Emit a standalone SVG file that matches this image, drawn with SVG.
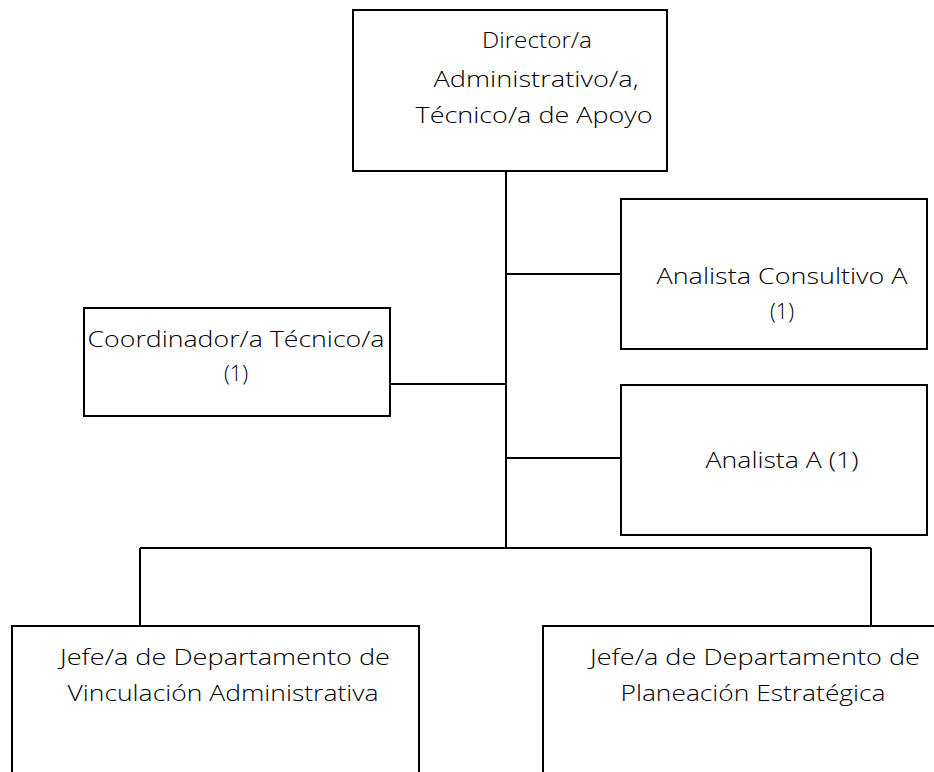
<svg xmlns="http://www.w3.org/2000/svg" width="934" height="772" viewBox="0 0 934 772">
<style>
.box{fill:#fff;stroke:#000;stroke-width:2}
.ln{stroke:#000;stroke-width:2;fill:none}
text{font-family:"Open Sans","Noto Sans",sans-serif;font-weight:300;font-size:21.5px;fill:#000;text-anchor:middle}
</style>
<rect width="934" height="772" fill="#fff"/>
<g id="connectors">
<path class="ln" d="M506 171V548M506 274H621M506 458H621M390 384H506M140 548H871M140 548V626M871 548V626"/>
</g>
<g id="director">
<rect class="box" x="353" y="10" width="314" height="161"/>
<text x="537" y="48" textLength="110" lengthAdjust="spacingAndGlyphs">Director/a</text>
<text x="536" y="87" textLength="205" lengthAdjust="spacingAndGlyphs">Administrativo/a,</text>
<text x="534" y="123" textLength="237" lengthAdjust="spacingAndGlyphs">Técnico/a de Apoyo</text>
</g>
<g id="analista-consultivo">
<rect class="box" x="621" y="199" width="306" height="150"/>
<text x="782" y="284" textLength="251" lengthAdjust="spacingAndGlyphs">Analista Consultivo A</text>
<text x="782" y="319">(1)</text>
</g>
<g id="coordinador">
<rect class="box" x="84" y="308" width="306" height="108"/>
<text x="236" y="347" textLength="297" lengthAdjust="spacingAndGlyphs">Coordinador/a Técnico/a</text>
<text x="236" y="381">(1)</text>
</g>
<g id="analista-a">
<rect class="box" x="621" y="385" width="306" height="150"/>
<text x="782" y="468" textLength="153" lengthAdjust="spacingAndGlyphs">Analista A (1)</text>
</g>
<g id="jefe-vinculacion">
<rect class="box" x="12" y="626" width="407" height="160"/>
<text x="225" y="665" textLength="330" lengthAdjust="spacingAndGlyphs">Jefe/a de Departamento de</text>
<text x="223" y="701" textLength="311" lengthAdjust="spacingAndGlyphs">Vinculación Administrativa</text>
</g>
<g id="jefe-planeacion">
<rect class="box" x="543" y="626" width="400" height="160"/>
<text x="755" y="665" textLength="330" lengthAdjust="spacingAndGlyphs">Jefe/a de Departamento de</text>
<text x="753" y="701" textLength="265" lengthAdjust="spacingAndGlyphs">Planeación Estratégica</text>
</g>
</svg>
